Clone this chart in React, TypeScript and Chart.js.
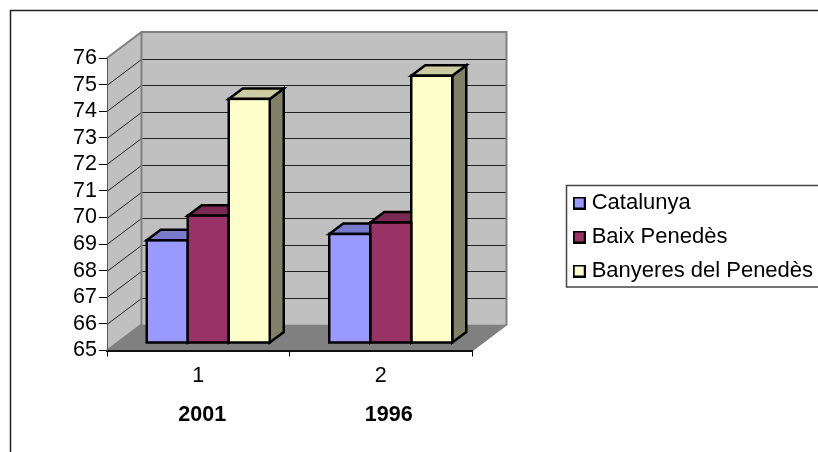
import React, { useEffect, useRef } from "react";
import { Chart, registerables } from "chart.js";

Chart.register(...registerables);

const categories = ["1", "2"];
const yearLabels = ["2001", "1996"];
const seriesNames = ["Catalunya", "Baix Penedès", "Banyeres del Penedès"];
const catalunya = [68.86, 69.1];
const baixPenedes = [69.79, 69.53];
const banyeres = [74.18, 75.05];
const seriesColors = ["#9999ff", "#993366", "#ffffcc"];
const yMin = 65;
const yMax = 76;

const FONT = "'Liberation Sans', Arial, sans-serif";
const AXIS_SIZE = 21.5;
const LEGEND_SIZE = 22;
// 3D projection of the chart box and of the bars' depth
const WALL_DX = 34.5;
const WALL_DY = -26;
const BAR_SHIFT_X = 10;
const BAR_SHIFT_Y = -7.5;
const BAR_DX = 14;
const BAR_DY = -10.5;
const BAR_STROKE = 2.5;
const YEAR_OFFSETS = [4, 8];

function shade(hex: string, f: number) {
  const n = parseInt(hex.slice(1), 16);
  const r = Math.round(((n >> 16) & 255) * f);
  const g = Math.round(((n >> 8) & 255) * f);
  const b = Math.round((n & 255) * f);
  return `rgb(${r},${g},${b})`;
}

function poly(ctx: CanvasRenderingContext2D, pts: number[][], fill?: string, stroke?: string, lw = 2) {
  ctx.beginPath();
  pts.forEach((p, i) => (i ? ctx.lineTo(p[0], p[1]) : ctx.moveTo(p[0], p[1])));
  ctx.closePath();
  if (fill) {
    ctx.fillStyle = fill;
    ctx.fill();
  }
  if (stroke) {
    ctx.strokeStyle = stroke;
    ctx.lineWidth = lw;
    ctx.lineJoin = "miter";
    ctx.stroke();
  }
}

function line(ctx: CanvasRenderingContext2D, pts: number[][], color: string, lw: number) {
  ctx.beginPath();
  pts.forEach((p, i) => (i ? ctx.lineTo(p[0], p[1]) : ctx.moveTo(p[0], p[1])));
  ctx.strokeStyle = color;
  ctx.lineWidth = lw;
  ctx.stroke();
}

function legendIcon(color: string) {
  const c = document.createElement("canvas");
  c.width = 13;
  c.height = 13;
  const g = c.getContext("2d")!;
  g.fillStyle = color;
  g.fillRect(1, 1, 11, 11);
  g.strokeStyle = "#000";
  g.lineWidth = 2;
  g.strokeRect(1, 1, 11, 11);
  return c;
}

const box3d = {
  id: "box3d",
  beforeLayout(chart: any) {
    const legend = chart.legend;
    if (legend && !legend.__wrapped) {
      const fit = legend.fit;
      legend.fit = function () {
        fit.call(this);
        this.width = 346;
      };
      legend.__wrapped = true;
    }
  },
  afterLayout(chart: any) {
    const legend = chart.legend;
    legend.left = 565.7;
    legend.right = 818;
    legend.width = 252.3;
    legend.top = 180;
    legend.bottom = 300;
    legend.height = 120;
  },
  beforeDraw(chart: any) {
    const { ctx, chartArea: a, scales } = chart;
    const y = scales.y;
    ctx.save();
    ctx.fillStyle = "#fff";
    ctx.fillRect(0, 0, chart.width, chart.height);
    // outer frame
    line(ctx, [[10.5, 452], [10.5, 10.5], [818, 10.5]], "#222", 1.5);
    const l = a.left;
    const r = a.right;
    const t = a.top;
    const b = a.bottom;
    // walls and floor
    poly(ctx, [[l + WALL_DX, t + WALL_DY], [r + WALL_DX, t + WALL_DY], [r + WALL_DX, b + WALL_DY], [l + WALL_DX, b + WALL_DY]], "#c0c0c0");
    poly(ctx, [[l, t], [l + WALL_DX, t + WALL_DY], [l + WALL_DX, b + WALL_DY], [l, b]], "#c0c0c0");
    poly(ctx, [[l, b], [l + WALL_DX, b + WALL_DY], [r + WALL_DX, b + WALL_DY], [r, b]], "#808080");
    // gridlines on side and back walls
    for (let v = yMin + 1; v < yMax; v++) {
      const py = Math.round(y.getPixelForValue(v)) + 0.5;
      line(ctx, [[l, py], [l + WALL_DX, py + WALL_DY], [r + WALL_DX, py + WALL_DY]], "#222", 1);
    }
    // wall edges
    line(ctx, [[l, t], [l + WALL_DX, t + WALL_DY], [r + WALL_DX, t + WALL_DY], [r + WALL_DX, b + WALL_DY], [r, b]], "#808080", 2);
    line(ctx, [[l + WALL_DX, t + WALL_DY], [l + WALL_DX, b + WALL_DY], [l, b]], "#808080", 2);
    ctx.restore();
  },
  beforeDatasetsDraw(chart: any) {
    const { ctx } = chart;
    ctx.save();
    ctx.translate(BAR_SHIFT_X, BAR_SHIFT_Y);
    // depth faces, left to right, behind every front face
    categories.forEach((_, ci) => {
      seriesNames.forEach((_n, si) => {
        const bar = chart.getDatasetMeta(si).data[ci];
        const x0 = bar.x - bar.width / 2;
        const x1 = bar.x + bar.width / 2;
        const color = seriesColors[si];
        poly(ctx, [[x1, bar.y], [x1 + BAR_DX, bar.y + BAR_DY], [x1 + BAR_DX, bar.base + BAR_DY], [x1, bar.base]], shade(color, 0.5), "#000", BAR_STROKE);
        poly(ctx, [[x0, bar.y], [x0 + BAR_DX, bar.y + BAR_DY], [x1 + BAR_DX, bar.y + BAR_DY], [x1, bar.y]], shade(color, 0.8), "#000", BAR_STROKE);
      });
    });
  },
  afterDatasetsDraw(chart: any) {
    const { ctx, scales } = chart;
    // outlines of the front faces
    seriesNames.forEach((_n, si) => {
      chart.getDatasetMeta(si).data.forEach((bar: any) => {
        ctx.strokeStyle = "#000";
        ctx.lineWidth = BAR_STROKE;
        ctx.strokeRect(bar.x - bar.width / 2, bar.y, bar.width, bar.base - bar.y);
      });
    });
    ctx.restore();
    // second row under the category axis
    ctx.save();
    ctx.fillStyle = "#000";
    ctx.font = `bold ${AXIS_SIZE}px ${FONT}`;
    ctx.textAlign = "center";
    ctx.textBaseline = "middle";
    yearLabels.forEach((t, i) => {
      ctx.fillText(t, scales.x.getPixelForValue(i) + YEAR_OFFSETS[i], 415);
    });
    ctx.restore();
    // legend frame
    ctx.save();
    line(ctx, [[818, 185.5], [566.5, 185.5], [566.5, 287], [818, 287]], "#444", 1.5);
    ctx.restore();
  },
};

export default function App() {
  const ref = useRef<HTMLCanvasElement>(null);
  useEffect(() => {
    const icons = seriesColors.map(legendIcon);
    const values = [catalunya, baixPenedes, banyeres];
    const chart = new Chart(ref.current!, {
      type: "bar",
      data: {
        labels: categories,
        datasets: seriesNames.map((label, i) => ({
          label,
          data: values[i],
          base: yMin,
          backgroundColor: seriesColors[i],
          borderWidth: 0,
          clip: false as any,
          barPercentage: 1,
          categoryPercentage: 0.674,
        })),
      },
      options: {
        responsive: false,
        animation: false,
        devicePixelRatio: 1,
        layout: { padding: { left: 0, right: 0, top: 58, bottom: 0 } },
        plugins: {
          title: { display: false },
          tooltip: { enabled: false },
          legend: {
            display: true,
            position: "right",
            align: "start",
            labels: {
              usePointStyle: true,
              boxHeight: 3,
              boxWidth: 3,
              padding: 12,
              color: "#000",
              font: { family: FONT, size: LEGEND_SIZE },
              generateLabels: (c: any) =>
                Chart.defaults.plugins.legend.labels.generateLabels(c).map((it: any, i: number) => ({
                  ...it,
                  pointStyle: icons[i],
                  lineWidth: 0,
                })),
            },
          },
        },
        scales: {
          x: {
            type: "category",
            offset: true,
            afterFit: (s: any) => {
              s.height = 101.5;
            },
            grid: { display: true, drawOnChartArea: false, drawTicks: true, tickLength: 6, color: "#000", offset: true },
            border: { display: true, color: "#111", width: 2 },
            ticks: { color: "#000", padding: 7, maxRotation: 0, font: { family: FONT, size: AXIS_SIZE } },
          },
          y: {
            type: "linear",
            min: yMin,
            max: yMax,
            afterFit: (s: any) => {
              s.width = 107;
            },
            grid: { display: true, drawOnChartArea: false, drawTicks: true, tickLength: 8, color: "#000" },
            border: { display: true, color: "#555", width: 1 },
            ticks: { stepSize: 1, autoSkip: false, color: "#000", padding: 2, font: { family: FONT, size: AXIS_SIZE } },
          },
        },
      },
      plugins: [box3d as any],
    });
    return () => chart.destroy();
  }, []);
  return (
    <div style={{ position: "absolute", left: 0, top: 0, width: 818, height: 452 }}>
      <canvas ref={ref} width={818} height={452} style={{ display: "block" }} />
    </div>
  );
}
